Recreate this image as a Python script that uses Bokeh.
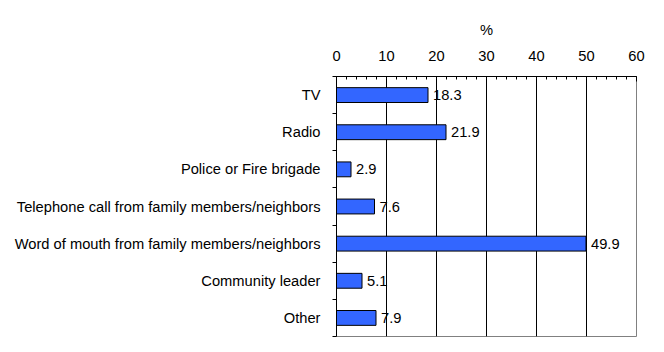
from bokeh.plotting import figure
from bokeh.models import Range1d, FixedTicker, ColumnDataSource, SingleIntervalTicker, LinearAxis
from bokeh.embed import file_html
from bokeh.resources import INLINE
from bokeh.core.properties import value

categories = ["TV", "Radio", "Police or Fire brigade",
              "Telephone call from family members/neighbors",
              "Word of mouth from family members/neighbors",
              "Community leader", "Other"]
values = [18.3, 21.9, 2.9, 7.6, 49.9, 5.1, 7.9]
x_ticks = [0, 10, 20, 30, 40, 50, 60]

FONT = "Liberation Sans"
FS = "14.7px"
n = len(categories)
ypos = [i + 0.5 for i in range(n)]
src = ColumnDataSource(dict(y=ypos, v=values, lab=["%.1f" % v for v in values]))

p = figure(width=664, height=352, output_backend="svg", toolbar_location=None,
           x_range=Range1d(x_ticks[0], x_ticks[-1]), y_range=Range1d(n, 0),
           x_axis_location="above",
           min_border_left=336, min_border_right=28,
           min_border_top=76, min_border_bottom=16)
p.background_fill_color = "white"
p.border_fill_color = "white"
p.outline_line_color = "#808080"
p.outline_line_width = 1

p.hbar(y="y", right="v", left=0, height=0.4, source=src,
       fill_color="#3366FF", line_color="black", line_width=1)
p.text(x="v", y="y", text="lab", source=src, x_offset=5,
       text_align="left", text_baseline="middle",
       text_font=value(FONT), text_font_size=FS, text_color="black")

# x axis (top)
xa = p.xaxis[0]
xa.ticker = SingleIntervalTicker(interval=10, num_minor_ticks=5)
xa.axis_label = "%"
xa.axis_label_text_font = FONT
xa.axis_label_text_font_style = "normal"
xa.axis_label_text_font_size = FS
xa.axis_label_text_color = "black"
xa.axis_label_standoff = 10
xa.major_label_text_font = FONT
xa.major_label_text_font_size = FS
xa.major_label_text_color = "black"
xa.major_label_standoff = 16
xa.major_tick_in = 5
xa.major_tick_out = 0
xa.minor_tick_in = 3
xa.minor_tick_out = 0
xa.axis_line_color = "black"
xa.major_tick_line_color = "black"
xa.minor_tick_line_color = "black"

# y axis (left): boundary ticks only
ya = p.yaxis[0]
ya.ticker = FixedTicker(ticks=list(range(n + 1)))
ya.major_label_overrides = {i: " " for i in range(n + 1)}
ya.major_label_text_font_size = "1px"
ya.major_label_standoff = 0
ya.major_tick_in = 0
ya.major_tick_out = 4
ya.major_tick_line_color = "black"
ya.major_tick_line_width = 1
ya.minor_tick_line_color = None
ya.axis_line_color = "black"

# category labels axis
la = LinearAxis(ticker=FixedTicker(ticks=ypos),
                major_label_overrides={y: c for y, c in zip(ypos, categories)},
                major_label_text_font=FONT, major_label_text_font_size=FS,
                major_label_text_color="black", major_label_standoff=3,
                major_tick_line_color=None, minor_tick_line_color=None,
                axis_line_color=None)
p.add_layout(la, "left")

p.xgrid.ticker = FixedTicker(ticks=[10, 20, 30, 40, 50])
p.xgrid.grid_line_color = "black"
p.xgrid.grid_line_width = 1
p.ygrid.grid_line_color = None

open("out.html", "w").write(file_html(p, INLINE))
